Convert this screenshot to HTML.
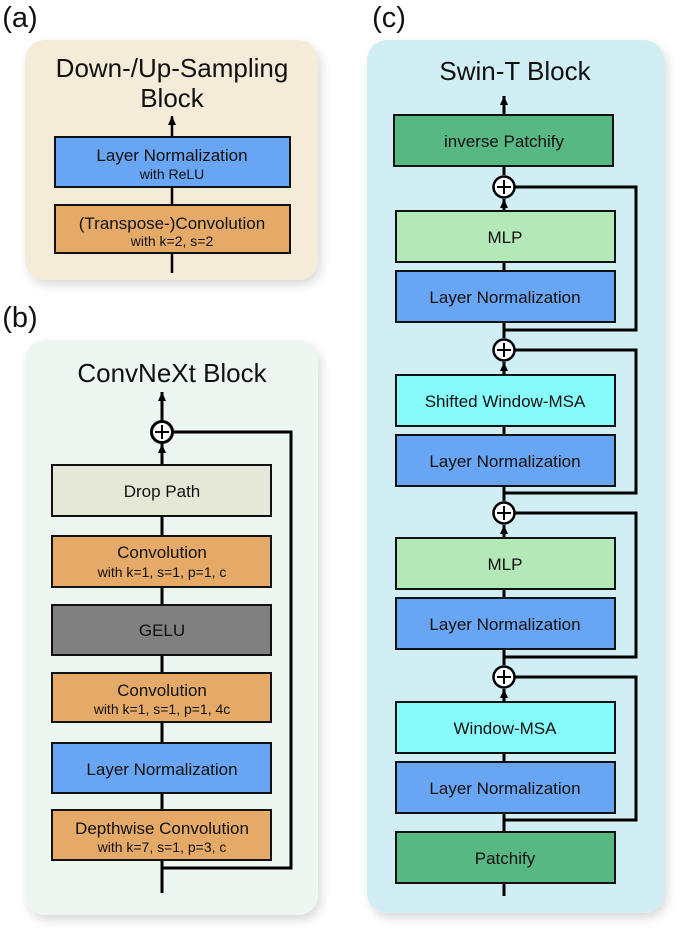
<!DOCTYPE html>
<html><head><meta charset="utf-8"><style>
html,body{margin:0;padding:0;background:#fff;}
svg{display:block;}
text{font-family:"Liberation Sans",sans-serif;fill:#111;text-anchor:middle;}
</style></head><body>
<svg width="685" height="933" viewBox="0 0 685 933" xmlns="http://www.w3.org/2000/svg">
<defs>
<marker id="ar" markerWidth="10" markerHeight="10" refX="9" refY="4" orient="auto" markerUnits="userSpaceOnUse">
<path d="M0,0 L9,4 L0,8 Z" fill="#000"/></marker>
<filter id="sh" x="-10%" y="-10%" width="130%" height="130%"><feDropShadow dx="3" dy="5" stdDeviation="5" flood-color="#000" flood-opacity="0.15"/></filter>
</defs>
<g stroke="none">
<rect x="25" y="40" width="293" height="240" rx="20" fill="#f4ecd9" filter="url(#sh)"/>
<rect x="25" y="340" width="293" height="575" rx="20" fill="#eef6f2" filter="url(#sh)"/>
<rect x="367" y="40" width="297" height="873" rx="20" fill="#d2eef5" filter="url(#sh)"/>
</g>
<text x="20" y="27" font-size="29">(a)</text>
<text x="20" y="327" font-size="29">(b)</text>
<text x="389" y="27" font-size="29">(c)</text>

<!-- Panel a -->
<text x="172" y="77" font-size="26">Down-/Up-Sampling</text>
<text x="172" y="107" font-size="26">Block</text>
<g stroke="#000" stroke-width="2.5" fill="none">
<line x1="172" y1="273" x2="172" y2="116" marker-end="url(#ar)"/>
</g>
<g stroke="#111" stroke-width="2">
<rect x="55" y="137" width="235" height="50" fill="#68a5f3"/>
<rect x="55" y="205" width="235" height="48" fill="#e5aa67"/>
</g>
<text x="172" y="161" font-size="17">Layer Normalization</text>
<text x="172" y="179" font-size="14">with ReLU</text>
<text x="172" y="229" font-size="17">(Transpose-)Convolution</text>
<text x="172" y="246" font-size="14">with k=2, s=2</text>

<!-- Panel b -->
<text x="172" y="382" font-size="26">ConvNeXt Block</text>
<g stroke="#000" stroke-width="3" fill="none">
<line x1="162" y1="893" x2="162" y2="444" marker-end="url(#ar)"/>
<line x1="162" y1="421" x2="162" y2="392" marker-end="url(#ar)"/>
<polyline points="173,432 291,432 291,868 162,868"/>
<circle cx="162" cy="432" r="10.5" fill="#fff"/>
<line x1="155" y1="432" x2="169" y2="432" stroke-width="2"/>
<line x1="162" y1="425" x2="162" y2="439" stroke-width="2"/>
</g>
<g stroke="#111" stroke-width="2">
<rect x="52" y="465" width="219" height="51" fill="#e5e7d7"/>
<rect x="52" y="536" width="219" height="51" fill="#e5aa67"/>
<rect x="52" y="605" width="219" height="50" fill="#808080"/>
<rect x="52" y="673" width="219" height="49" fill="#e5aa67"/>
<rect x="52" y="743" width="219" height="50" fill="#68a5f3"/>
<rect x="52" y="810" width="219" height="50" fill="#e5aa67"/>
</g>
<text x="162" y="497" font-size="17">Drop Path</text>
<text x="162" y="558" font-size="17">Convolution</text>
<text x="162" y="577" font-size="14">with k=1, s=1, p=1, c</text>
<text x="162" y="636" font-size="17">GELU</text>
<text x="162" y="696" font-size="17">Convolution</text>
<text x="162" y="714" font-size="14">with k=1, s=1, p=1, 4c</text>
<text x="162" y="775" font-size="17">Layer Normalization</text>
<text x="162" y="834" font-size="17">Depthwise Convolution</text>
<text x="162" y="852" font-size="14">with k=7, s=1, p=3, c</text>

<!-- Panel c -->
<text x="515" y="80" font-size="26">Swin-T Block</text>
<g stroke="#000" stroke-width="3" fill="none">
<line x1="504" y1="896" x2="504" y2="689" marker-end="url(#ar)"/>
<line x1="504" y1="665" x2="504" y2="525" marker-end="url(#ar)"/>
<line x1="504" y1="501" x2="504" y2="362" marker-end="url(#ar)"/>
<line x1="504" y1="338" x2="504" y2="199" marker-end="url(#ar)"/>
<line x1="504" y1="175" x2="504" y2="96" marker-end="url(#ar)"/>
<polyline points="514,187 636,187 636,330 504,330"/>
<polyline points="514,350 636,350 636,493 504,493"/>
<polyline points="514,513 636,513 636,657 504,657"/>
<polyline points="514,677 636,677 636,820 504,820"/>
</g>
<g stroke="#000" stroke-width="2.5" fill="#fff">
<circle cx="504" cy="187" r="10.5"/>
<circle cx="504" cy="350" r="10.5"/>
<circle cx="504" cy="513" r="10.5"/>
<circle cx="504" cy="677" r="10.5"/>
</g>
<g stroke="#000" stroke-width="2">
<path d="M497,187h14M504,180v14M497,350h14M504,343v14M497,513h14M504,506v14M497,677h14M504,670v14"/>
</g>
<g stroke="#111" stroke-width="2">
<rect x="394" y="115" width="219" height="51" fill="#58b884"/>
<rect x="396" y="211" width="219" height="51" fill="#b3e8b8"/>
<rect x="396" y="271" width="219" height="51" fill="#68a5f3"/>
<rect x="396" y="375" width="219" height="51" fill="#86fdfb"/>
<rect x="396" y="435" width="219" height="51" fill="#68a5f3"/>
<rect x="396" y="538" width="219" height="51" fill="#b3e8b8"/>
<rect x="396" y="598" width="219" height="51" fill="#68a5f3"/>
<rect x="396" y="702" width="219" height="51" fill="#86fdfb"/>
<rect x="396" y="762" width="219" height="51" fill="#68a5f3"/>
<rect x="396" y="832" width="219" height="51" fill="#58b884"/>
</g>
<text x="504" y="147" font-size="17">inverse Patchify</text>
<text x="505" y="243" font-size="17">MLP</text>
<text x="505" y="303" font-size="17">Layer Normalization</text>
<text x="505" y="407" font-size="17">Shifted Window-MSA</text>
<text x="505" y="467" font-size="17">Layer Normalization</text>
<text x="505" y="570" font-size="17">MLP</text>
<text x="505" y="630" font-size="17">Layer Normalization</text>
<text x="505" y="734" font-size="17">Window-MSA</text>
<text x="505" y="794" font-size="17">Layer Normalization</text>
<text x="505" y="864" font-size="17">Patchify</text>
</svg>
</body></html>
